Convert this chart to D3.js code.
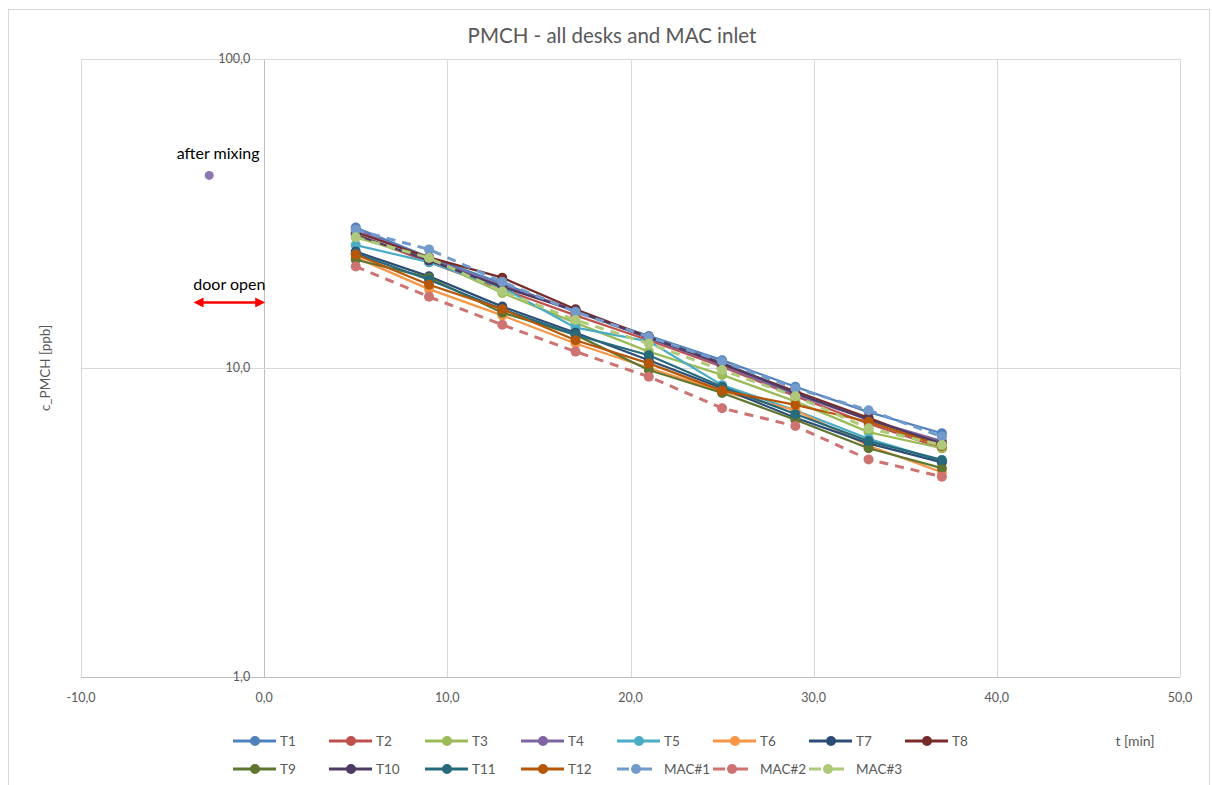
<!DOCTYPE html>
<html>
<head>
<meta charset="utf-8">
<script src="https://cdn.jsdelivr.net/npm/d3@7"></script>
<style>
  body { margin: 0; background: #fff; }
  text { font-family: Lato, "Open Sans", sans-serif; }
</style>
</head>
<body>
<div class="canvas"></div>
<script>
// sampling times [min]
const times = [5, 9, 13, 17, 21, 25, 29, 33, 37];

// c_PMCH [ppb] per desk / MAC inlet
const T1 = [28.5, 22.8, 18.8, 15.2, 12.7, 10.6, 8.7, 7.2, 6.15];
const T2 = [27.0, 22.0, 18.0, 14.8, 12.3, 10.1, 8.1, 6.6, 5.5];
const T3 = [26.5, 22.5, 17.5, 14.0, 11.3, 9.5, 7.8, 6.2, 5.5];
const T4 = [28.0, 22.5, 18.5, 15.4, 12.5, 10.2, 8.2, 6.8, 5.8];
const T5 = [25.0, 22.0, 18.2, 13.5, 12.2, 8.8, 7.3, 5.9, 5.0];
const T6 = [22.8, 18.0, 14.8, 12.0, 10.0, 8.4, 7.3, 5.6, 4.6];
const T7 = [23.8, 19.8, 15.8, 13.0, 10.6, 8.6, 6.9, 5.7, 4.95];
const T8 = [27.5, 22.8, 19.6, 15.5, 12.6, 10.3, 8.4, 6.9, 5.6];
const T9 = [22.4, 19.6, 15.1, 12.8, 9.85, 8.3, 6.8, 5.5, 4.74];
const T10 = [27.0, 22.3, 18.3, 15.3, 12.5, 10.4, 8.3, 6.8, 5.7];
const T11 = [23.5, 19.3, 15.5, 12.8, 11.0, 8.7, 7.1, 5.8, 5.04];
const T12 = [23.3, 18.6, 15.5, 12.3, 10.35, 8.45, 7.6, 6.7, 5.6];
const MAC1 = [28.0, 24.2, 19.0, 15.2, 12.6, 10.5, 8.6, 7.3, 6.0];
const MAC2 = [21.3, 17.0, 13.8, 11.3, 9.37, 7.41, 6.49, 5.06, 4.45];
const MAC3 = [26.5, 22.7, 17.7, 14.3, 12.0, 9.85, 8.1, 6.38, 5.63];

const seriesNames = ['T1','T2','T3','T4','T5','T6','T7','T8','T9','T10','T11','T12','MAC#1','MAC#2','MAC#3'];
const seriesValues = [T1,T2,T3,T4,T5,T6,T7,T8,T9,T10,T11,T12,MAC1,MAC2,MAC3];
const colors = ['#4F81BD','#C0504D','#9BBB59','#8064A2','#4BACC6','#F79646','#2C4D75','#772C2A',
                '#5F7530','#4D3B62','#276A7C','#B65708','#729ACA','#CD7371','#AFC97A'];
const dashed = [false,false,false,false,false,false,false,false,false,false,false,false,true,true,true];

// annotations
const afterMixing = { t: -3, v: 42 };
const doorOpen = { t0: -3.8, t1: 0, v: 16.3 };

const xTicks = [-10, 0, 10, 20, 30, 40, 50];
const yTicks = [1, 10, 100];

const width = 1212, height = 785;
const margin = { top: 59, right: 32, bottom: 108, left: 81 };
const graphWidth = width - margin.left - margin.right;
const graphHeight = height - margin.top - margin.bottom;

const svg = d3.select('.canvas')
  .append('svg')
    .attr('width', width)
    .attr('height', height);

// chart border
svg.append('rect')
  .attr('x', 8.5).attr('y', 9.5)
  .attr('width', 1201).attr('height', 785)
  .attr('fill', 'none').attr('stroke', '#D9D9D9');

const x = d3.scaleLinear().domain([-10, 50]).range([0, graphWidth]);
const y = d3.scaleLog().domain([1, 100]).range([graphHeight, 0]);

const graph = svg.append('g')
  .attr('transform', `translate(${margin.left}, ${margin.top})`);

// gridlines
graph.selectAll('.vgrid').data(xTicks).enter().append('line')
  .attr('x1', d => Math.round(x(d)) + 0.5).attr('x2', d => Math.round(x(d)) + 0.5)
  .attr('y1', 0).attr('y2', graphHeight)
  .attr('stroke', d => d === 0 ? '#BFBFBF' : '#D9D9D9').attr('stroke-width', 1);
graph.selectAll('.hgrid').data(yTicks).enter().append('line')
  .attr('x1', 0).attr('x2', graphWidth)
  .attr('y1', d => Math.round(y(d)) + 0.5).attr('y2', d => Math.round(y(d)) + 0.5)
  .attr('stroke', d => d === 1 ? '#BFBFBF' : '#D9D9D9').attr('stroke-width', 1);

// x tick labels
const fmt = d => d3.format('.1f')(d).replace('.', ',').replace('−', '-');
graph.selectAll('.xlab').data(xTicks).enter().append('text')
  .attr('x', d => x(d)).attr('y', graphHeight + 25)
  .attr('text-anchor', 'middle').attr('font-size', 12.5).attr('fill', '#595959')
  .text(fmt);

// y tick labels (value axis crosses at x = 0)
graph.selectAll('.ylab').data(yTicks).enter().append('text')
  .attr('x', x(0) - 14).attr('y', d => y(d) + 4)
  .attr('text-anchor', 'end').attr('font-size', 12.5).attr('fill', '#595959')
  .text(fmt);

// title and axis titles
svg.append('text')
  .attr('x', 612).attr('y', 43)
  .attr('text-anchor', 'middle').attr('font-size', 20.5).attr('fill', '#595959')
  .text('PMCH - all desks and MAC inlet');
svg.append('text')
  .attr('transform', 'translate(50, 368) rotate(-90)')
  .attr('text-anchor', 'middle').attr('font-size', 13.5).attr('fill', '#595959')
  .text('c_PMCH [ppb]');
svg.append('text')
  .attr('x', 1135).attr('y', 746)
  .attr('text-anchor', 'middle').attr('font-size', 14).attr('fill', '#595959')
  .text('t [min]');

// series
const line = d3.line().x(d => x(d[0])).y(d => y(d[1]));
seriesValues.forEach((vals, i) => {
  const pts = times.map((t, j) => [t, vals[j]]);
  graph.append('path')
    .datum(pts)
    .attr('d', line)
    .attr('fill', 'none')
    .attr('stroke', colors[i])
    .attr('stroke-width', dashed[i] ? 3 : 2.25)
    .attr('stroke-dasharray', dashed[i] ? '9,7' : null)
    .attr('stroke-linejoin', 'round');
  graph.selectAll(`.pt${i}`).data(pts).enter().append('circle')
    .attr('cx', d => x(d[0])).attr('cy', d => y(d[1]))
    .attr('r', 5).attr('fill', colors[i]);
});

// annotations
graph.append('circle')
  .attr('cx', x(afterMixing.t)).attr('cy', y(afterMixing.v))
  .attr('r', 4.5).attr('fill', '#8C78AE');
graph.append('text')
  .attr('x', x(afterMixing.t) + 9).attr('y', y(afterMixing.v) - 16)
  .attr('text-anchor', 'middle').attr('font-size', 16).attr('fill', '#000')
  .text('after mixing');

const defs = svg.append('defs');
['start', 'end'].forEach(k => {
  defs.append('marker')
    .attr('id', 'arr-' + k)
    .attr('viewBox', '0 0 10 10')
    .attr('refX', 5).attr('refY', 5)
    .attr('markerWidth', 4).attr('markerHeight', 4)
    .attr('orient', k === 'start' ? 'auto-start-reverse' : 'auto')
    .append('path').attr('d', 'M0,0 L10,5 L0,10 z').attr('fill', '#FF0000');
});
graph.append('line')
  .attr('x1', x(doorOpen.t0) + 4).attr('x2', x(doorOpen.t1) - 4)
  .attr('y1', y(doorOpen.v)).attr('y2', y(doorOpen.v))
  .attr('stroke', '#FF0000').attr('stroke-width', 2.5)
  .attr('marker-start', 'url(#arr-start)')
  .attr('marker-end', 'url(#arr-end)');
graph.append('text')
  .attr('x', (x(doorOpen.t0) + x(doorOpen.t1)) / 2).attr('y', y(doorOpen.v) - 12)
  .attr('text-anchor', 'middle').attr('font-size', 16).attr('fill', '#000')
  .text('door open');

// legend
const legend = svg.append('g');
seriesNames.forEach((name, i) => {
  const col = i < 8 ? i : i - 8;
  const row = i < 8 ? 0 : 1;
  const lx = 233 + col * 96;
  const ly = 741 + row * 28;
  const item = legend.append('g').attr('transform', `translate(${lx}, ${ly})`);
  item.append('line')
    .attr('x1', 0).attr('x2', dashed[i] ? 35 : 43)
    .attr('y1', 0).attr('y2', 0)
    .attr('stroke', colors[i]).attr('stroke-width', 3)
    .attr('stroke-dasharray', dashed[i] ? '12,4,19' : null);
  item.append('circle')
    .attr('cx', dashed[i] ? 19 : 22).attr('cy', 0).attr('r', 5).attr('fill', colors[i]);
  item.append('text')
    .attr('x', 47).attr('y', 5)
    .attr('font-size', 13.5).attr('fill', '#595959')
    .text(name);
});
</script>
</body>
</html>
